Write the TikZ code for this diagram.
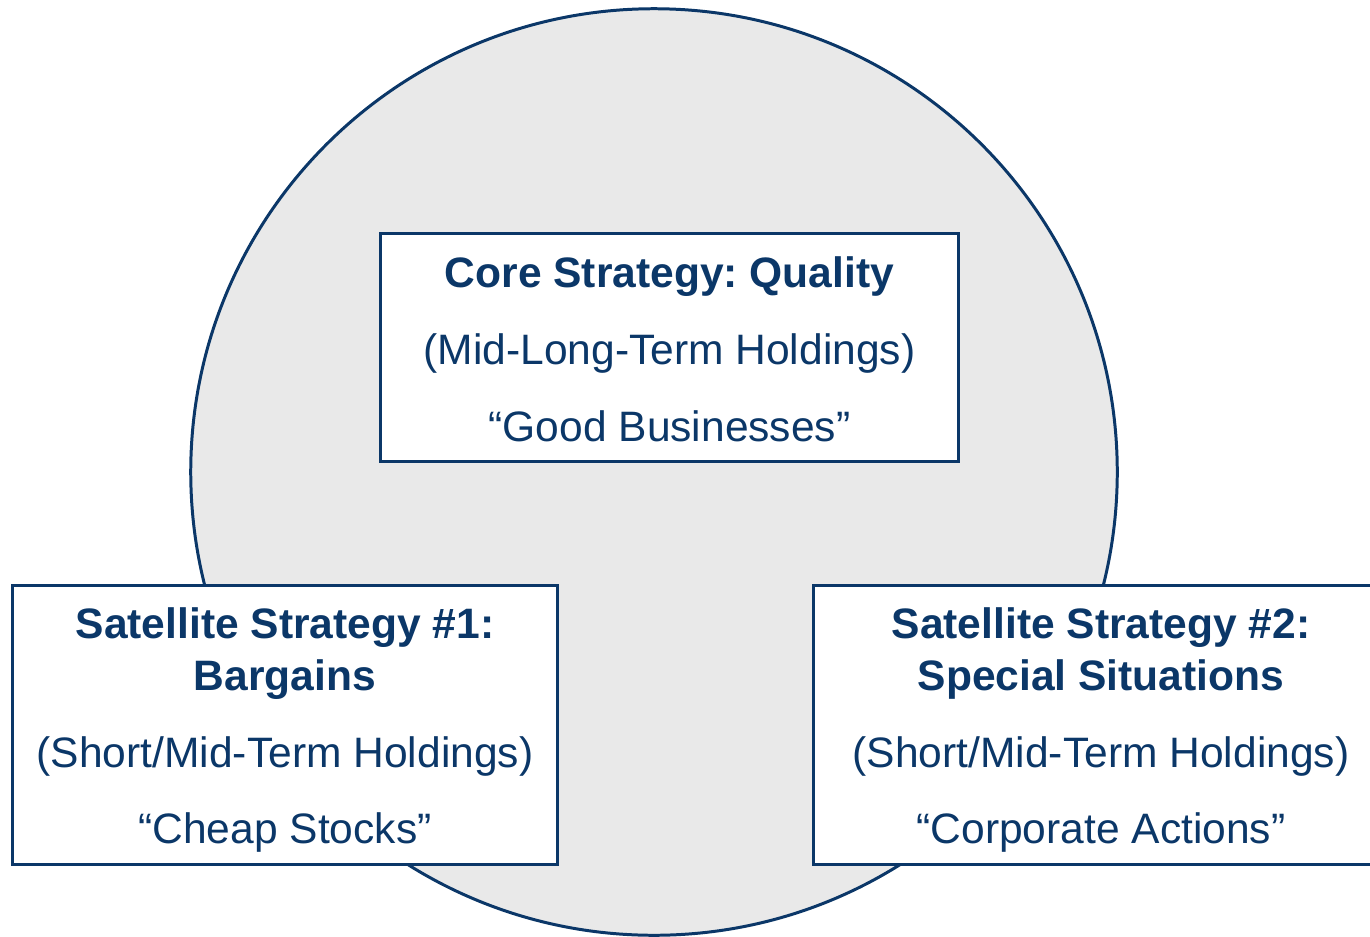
\documentclass[tikz,border=0pt]{standalone}
\usepackage{fontspec}
\setmainfont{Liberation Sans}
\frenchspacing
\definecolor{navy}{HTML}{0B3768}
\definecolor{disc}{HTML}{E9E9E9}
\begin{document}
\begin{tikzpicture}[x=0.01cm,y=-0.01cm,
    box/.style={draw=navy,line width=0.85pt,fill=white,inner sep=0pt},
    txt/.style={text=navy,align=center,inner sep=0pt,
        font=\fontsize{12.1}{14.8}\selectfont}]
    \useasboundingbox (0,0) rectangle (1370,936);
    \clip (0,0) rectangle (1370,936);

    \coordinate (O) at (654,472);
    \draw[navy,line width=0.85pt,fill=disc] (O) circle[radius=4.63cm];

    % core box
    \node[box,minimum width=5.77cm,minimum height=2.27cm] (core) at (669.5,347.5) {};
    \node[txt] (coretext) at (669.5,349.5)
        {\textbf{Core Strategy: Quality}\\[7.1pt]
         (Mid-Long-Term Holdings)\\[7.1pt]
         “Good Businesses”};

    % satellites
    \node[box,minimum width=5.44cm,minimum height=2.78cm] (sat1) at (285,725) {};
    \node[txt] (sat1text) at (285,730)
        {\textbf{Satellite Strategy \#1:}\\
         \textbf{Bargains}\\[6.9pt]
         (Short/Mid-Term Holdings)\\[6.8pt]
         “Cheap Stocks”};

    \node[box,minimum width=5.74cm,minimum height=2.78cm] (sat2) at (1101,725) {};
    \node[txt] (sat2text) at (1101,730)
        {\textbf{Satellite Strategy \#2:}\\
         \textbf{Special Situations}\\[6.9pt]
         (Short/Mid-Term Holdings)\\[6.8pt]
         “Corporate Actions”};
\end{tikzpicture}
\end{document}
